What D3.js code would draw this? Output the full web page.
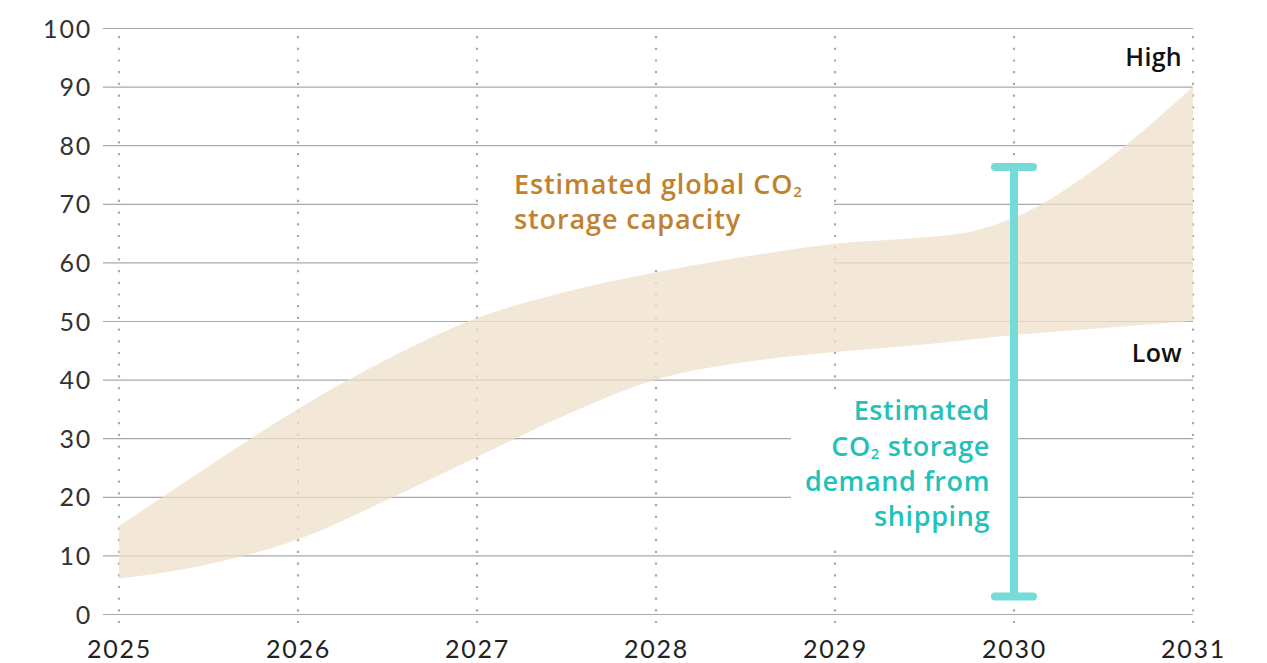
<!DOCTYPE html>
<html><head><meta charset="utf-8">
<script src="https://cdn.jsdelivr.net/npm/d3@7"></script>
<style>
html,body{margin:0;padding:0;background:#fff;}
svg{display:block;font-family:"Open Sans",Lato,sans-serif;}
</style></head>
<body><svg id="c" width="1267" height="663"></svg>
<script>
const years = [2025,2026,2027,2028,2029,2030,2031];
const yTicks = [0,10,20,30,40,50,60,70,80,90,100];
const bandX =     [2025,2025.5,2026,2026.5,2027,2027.5,2028,2028.5,2029,2029.5,2029.75,2030,2030.5,2031];
const bandHigh =  [15,  25.2,  35,  43.5,  50.5,  55,   58.3, 61,    63.2, 64.3,  65.2,   67.6, 77,    90];
const bandLow =   [6,   8.5,   12.7,19.5,  26.8,  34,   40,   43,    44.7, 46,    46.8,   47.6, 48.8,  50];
const demandYear = 2030, demandLow = 3, demandHigh = 76.3;

const tickFont = "Lato,'Open Sans',sans-serif";
const labelFont = "'Open Sans',Lato,sans-serif";

const svg = d3.select("#c");
const x = d3.scaleLinear().domain([2025,2031]).range([119,1193]);
const y = d3.scaleLinear().domain([0,100]).range([614,28]);

// horizontal gridlines + y labels
const yAxis = d3.axisLeft(y).tickValues(yTicks).tickSize(-(1193-103)).tickPadding(11);
const gy = svg.append("g").attr("transform","translate(103,0)").call(yAxis);
gy.select(".domain").remove();
gy.selectAll("line").attr("stroke","#a9a9a9").attr("stroke-width",1.2);
gy.selectAll("text").attr("font-size",25).attr("fill","#333").attr("font-family",tickFont)
  .attr("letter-spacing",1.8).attr("dy","0.36em");

// vertical dotted lines
svg.append("g").selectAll("line").data(years).join("line")
  .attr("x1",d=>x(d)).attr("x2",d=>x(d)).attr("y1",36).attr("y2",623)
  .attr("stroke","#aaa").attr("stroke-width",2.2).attr("stroke-dasharray","2.2,9.5");

// x labels
const xAxis = d3.axisBottom(x).tickValues(years).tickFormat(d3.format("d")).tickSize(0).tickPadding(0);
const gx = svg.append("g").attr("transform","translate(0,614)").call(xAxis);
gx.select(".domain").remove();
gx.selectAll("text").attr("font-size",25).attr("fill","#222").attr("font-family",tickFont)
  .attr("letter-spacing",1.8).attr("dy",0).attr("y",44);

// label boxes (behind the band)
svg.append("rect").attr("x",478).attr("y",147).attr("width",356).attr("height",119).attr("fill","#fff");
svg.append("rect").attr("x",791).attr("y",390).attr("width",219).attr("height",158).attr("fill","#fff");

// band
const bandData = bandX.map((v,i)=>({x:v,lo:bandLow[i],hi:bandHigh[i]}));
const area = d3.area().x(d=>x(d.x)).y0(d=>y(d.lo)).y1(d=>y(d.hi)).curve(d3.curveMonotoneX);
svg.append("path").datum(bandData).attr("d",area).attr("fill","#efe0cb").attr("fill-opacity",0.75);

// capacity label
const cap = svg.append("text").attr("fill","#c0822e").attr("font-size",27).attr("font-weight",600)
  .attr("font-family",labelFont).attr("letter-spacing",0.9);
const l1 = cap.append("tspan").attr("x",514).attr("y",194);
l1.append("tspan").text("Estimated global CO");
l1.append("tspan").text("2").attr("font-size",15).attr("dy",3);
cap.append("tspan").attr("x",514).attr("y",229).text("storage capacity");

// demand label
const dem = svg.append("text").attr("fill","#22c1b9").attr("font-size",27).attr("font-weight",600)
  .attr("font-family",labelFont).attr("letter-spacing",0.6).attr("text-anchor","end");
dem.append("tspan").attr("x",990).attr("y",420).text("Estimated");
const d2 = dem.append("tspan").attr("x",990).attr("y",456);
d2.append("tspan").text("CO");
d2.append("tspan").text("2").attr("font-size",15).attr("dy",3);
d2.append("tspan").text(" storage").attr("dy",-3);
dem.append("tspan").attr("x",990).attr("y",491).text("demand from");
dem.append("tspan").attr("x",990).attr("y",526).text("shipping");

// demand bar
const barColor = "#74dbd6";
svg.append("line").attr("x1",x(demandYear)).attr("x2",x(demandYear)).attr("y1",y(demandHigh)).attr("y2",y(demandLow))
  .attr("stroke",barColor).attr("stroke-width",8);
[demandHigh,demandLow].forEach(v=>{
  svg.append("line").attr("x1",x(demandYear)-19).attr("x2",x(demandYear)+19).attr("y1",y(v)).attr("y2",y(v))
    .attr("stroke",barColor).attr("stroke-width",8).attr("stroke-linecap","round");
});

// High / Low
svg.append("text").attr("x",1182).attr("y",66).attr("text-anchor","end").attr("font-size",25).attr("font-weight",600)
  .attr("font-family",labelFont).attr("letter-spacing",0.3).attr("fill","#111").text("High");
svg.append("text").attr("x",1182).attr("y",362).attr("text-anchor","end").attr("font-size",25).attr("font-weight",600)
  .attr("font-family",labelFont).attr("letter-spacing",0.3).attr("fill","#111").text("Low");
</script></body></html>
